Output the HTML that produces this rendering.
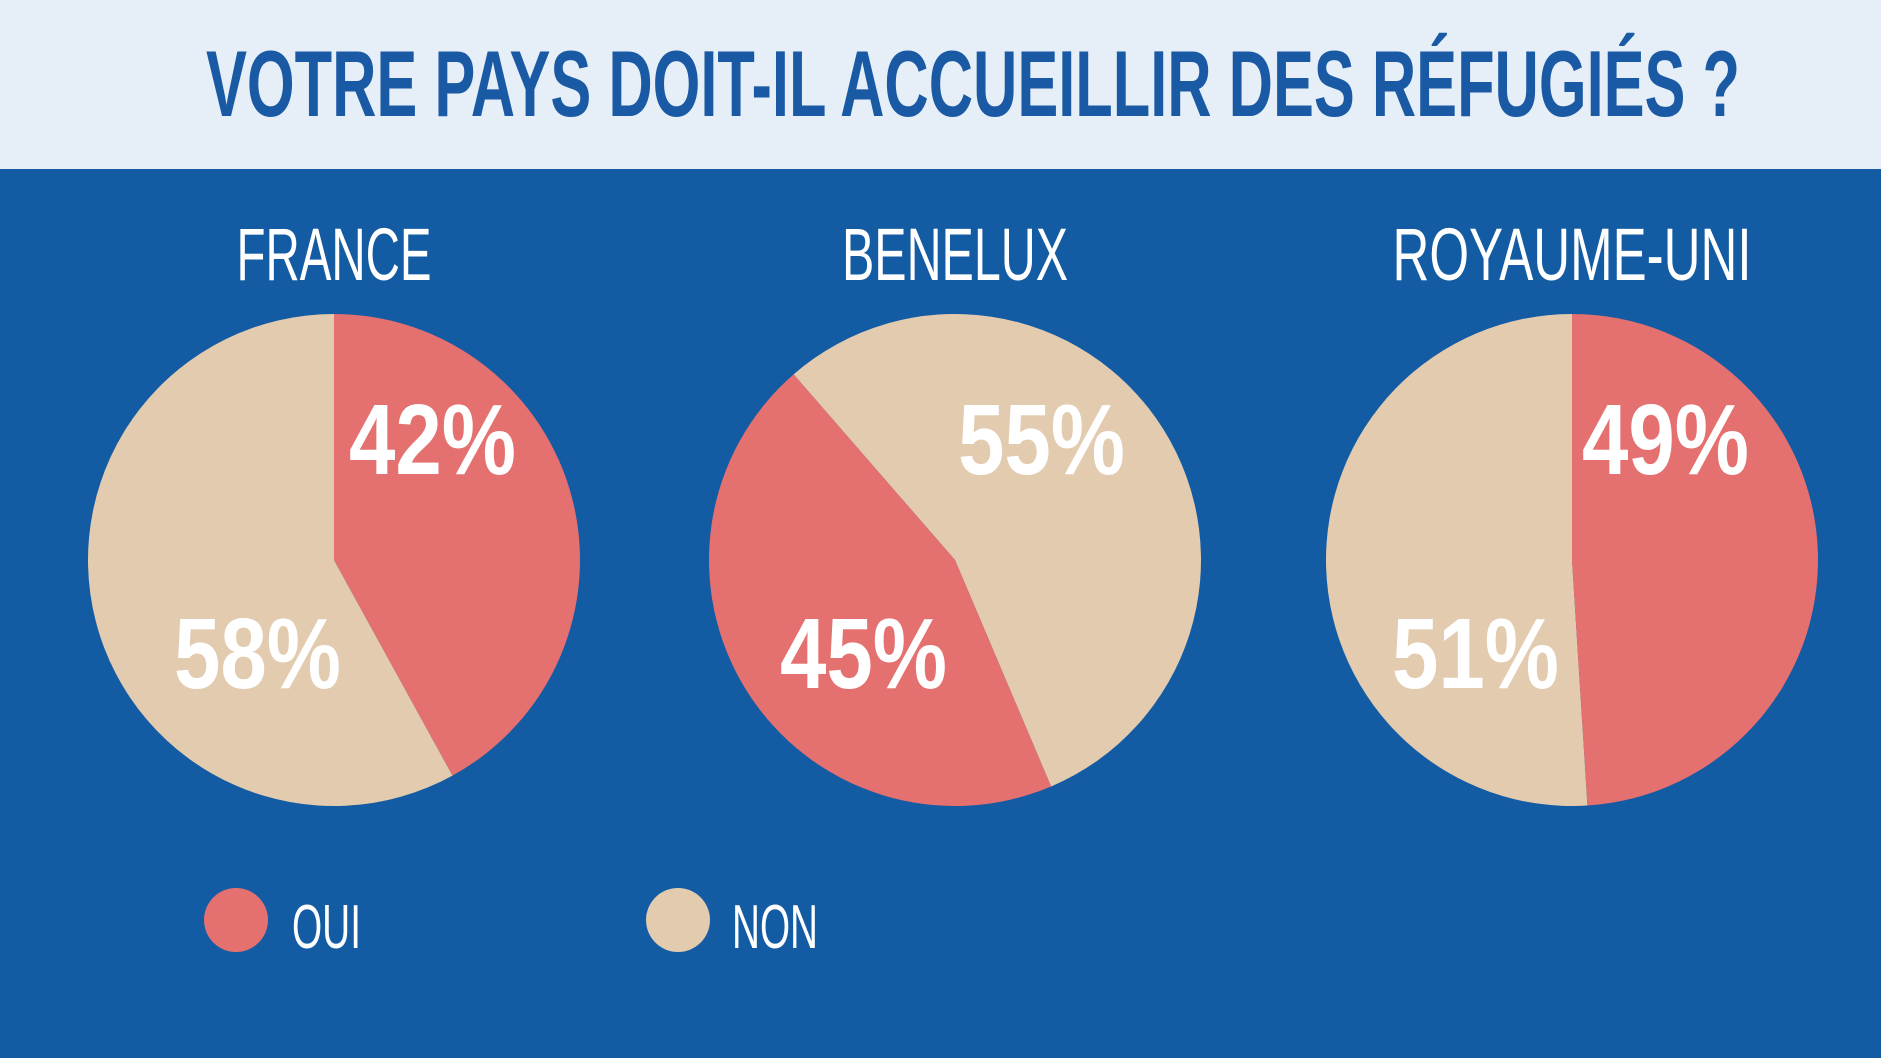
<!DOCTYPE html>
<html><head><meta charset="utf-8"><style>
html,body{margin:0;padding:0;width:1881px;height:1058px;overflow:hidden;background:#135ca3}
svg{display:block}
text{font-family:"Liberation Sans",sans-serif}
</style></head><body>
<svg id="chart" width="1881" height="1058" viewBox="0 0 1881 1058">
<rect x="0" y="0" width="1881" height="1058" fill="#135ca3"/>
<rect x="0" y="0" width="1881" height="169" fill="#e6eff7"/>
<text x="206" y="116" font-size="94" font-weight="bold" fill="#1a5aa5" textLength="1534" lengthAdjust="spacingAndGlyphs">VOTRE PAYS DOIT-IL ACCUEILLIR DES RÉFUGIÉS ?</text>
<g id="pies"></g>
<g>
<circle cx="236" cy="920" r="32" fill="#e57070"/>
<text x="292" y="948" font-size="62" fill="#fff" textLength="69" lengthAdjust="spacingAndGlyphs">OUI</text>
<circle cx="678" cy="920" r="32" fill="#e2cbaf"/>
<text x="732" y="948" font-size="62" fill="#fff" textLength="86" lengthAdjust="spacingAndGlyphs">NON</text>
</g>
</svg>
<script>
const countries = ["FRANCE", "BENELUX", "ROYAUME-UNI"];
const ouiValues = [42, 45, 49];
const nonValues = [58, 55, 51];
const ouiStartDeg = [0, 157, 0];

const NS = "http://www.w3.org/2000/svg";
const centersX = [334, 955, 1572];
const centerY = 560, R = 246;
const titleW = [195, 226, 359];
const ouiLabelPos = [[349, 474], [780, 688], [1582, 474]];
const nonLabelPos = [[174, 688], [958, 474], [1392, 688]];
const g = document.getElementById("pies");

function pt(cx, deg) {
  const a = (deg - 90) * Math.PI / 180;
  return [cx + R * Math.cos(a), centerY + R * Math.sin(a)];
}
function slicePath(cx, a0, a1) {
  const p0 = pt(cx, a0), p1 = pt(cx, a1);
  const large = (a1 - a0) > 180 ? 1 : 0;
  return `M${cx},${centerY} L${p0[0]},${p0[1]} A${R},${R} 0 ${large} 1 ${p1[0]},${p1[1]} Z`;
}
function mk(tag, attrs) {
  const e = document.createElementNS(NS, tag);
  for (const k in attrs) e.setAttribute(k, attrs[k]);
  g.appendChild(e);
  return e;
}
countries.forEach((c, i) => {
  const cx = centersX[i];
  const total = ouiValues[i] + nonValues[i];
  const s = ouiStartDeg[i];
  const e = s + ouiValues[i] / total * 360;
  const t = mk("text", {x: cx, y: 280, "font-size": 74, fill: "#fff", "text-anchor": "middle", textLength: titleW[i], lengthAdjust: "spacingAndGlyphs"});
  
  
  t.textContent = c;
  const non = mk("path", {d: slicePath(cx, e, s + 360), fill: "#e2cbaf"});
  
  
  const oui = mk("path", {d: slicePath(cx, s, e), fill: "#e57070"});
  
  
  const lo = mk("text", {x: ouiLabelPos[i][0], y: ouiLabelPos[i][1], "font-size": 100, "font-weight": "bold", fill: "#fff", textLength: 167, lengthAdjust: "spacingAndGlyphs"});
  
  
  lo.textContent = ouiValues[i] + "%";
  const ln = mk("text", {x: nonLabelPos[i][0], y: nonLabelPos[i][1], "font-size": 100, "font-weight": "bold", fill: "#fff", textLength: 167, lengthAdjust: "spacingAndGlyphs"});
  
  
  ln.textContent = nonValues[i] + "%";
});
</script>
</body></html>
